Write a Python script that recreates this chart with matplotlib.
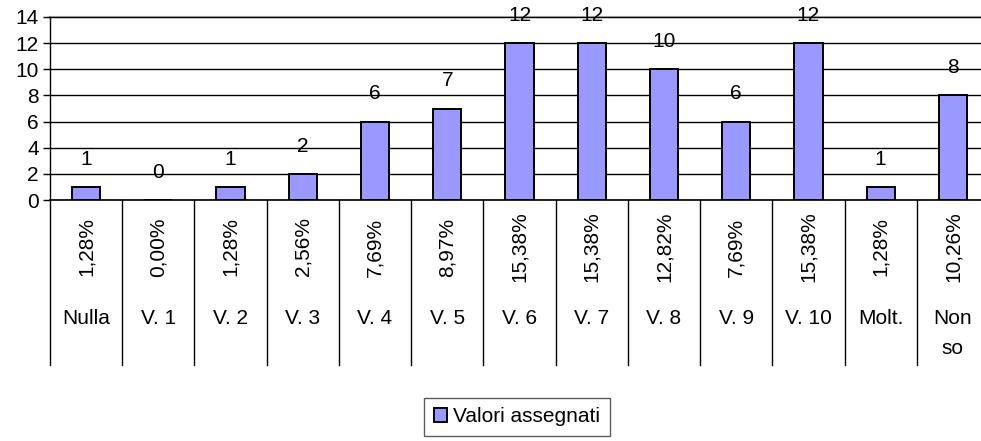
import matplotlib.pyplot as plt
from matplotlib.transforms import blended_transform_factory

plt.rcParams['font.family'] = ['Liberation Sans', 'DejaVu Sans']

# data
categories = ["Nulla", "V. 1", "V. 2", "V. 3", "V. 4", "V. 5", "V. 6",
              "V. 7", "V. 8", "V. 9", "V. 10", "Molt.", "Non\nso"]
counts = [1, 0, 1, 2, 6, 7, 12, 12, 10, 6, 12, 1, 8]
percents = ["1,28%", "0,00%", "1,28%", "2,56%", "7,69%", "8,97%", "15,38%",
            "15,38%", "12,82%", "7,69%", "15,38%", "1,28%", "10,26%"]

W, H = 981, 441
FS = 15
fig = plt.figure(figsize=(W / 100, H / 100), dpi=100)
left, right, top, bottom = 50, 989, 17, 200
ax = fig.add_axes([left / W, 1 - bottom / H, (right - left) / W, (bottom - top) / H])

x = list(range(len(categories)))
ax.bar(x, counts, width=0.39, color='#9999FF', edgecolor='black', linewidth=1.4,
       label='Valori assegnati', zorder=3)

for xi, c in zip(x, counts):
    ax.annotate(str(c), (xi, c), xytext=(0, 20), textcoords='offset points',
                ha='center', va='center', fontsize=FS, annotation_clip=False)

ax.set_xlim(-0.5, len(categories) - 0.5)
ax.set_ylim(0, 14)
ax.set_yticks(range(0, 15, 2))
ax.tick_params(axis='y', labelsize=FS, length=5, width=1, pad=3)
ax.set_xticks([])
ax.yaxis.grid(True, color='black', linewidth=1, zorder=0)
for s in ['top', 'right']:
    ax.spines[s].set_visible(False)
ax.spines['left'].set_linewidth(1)
ax.spines['bottom'].set_linewidth(1.2)
ax.axhline(14, color='#999999', linewidth=1.5, zorder=1, clip_on=False)

# data table below the axis
tr = blended_transform_factory(ax.transData, fig.transFigure)
y_top = 1 - bottom / H
y_bot = 1 - 365 / H
for k in range(len(categories)):
    ax.plot([k - 0.5, k - 0.5], [y_top, y_bot], transform=tr, color='black',
            linewidth=1, clip_on=False)
for xi, p, cat in zip(x, percents, categories):
    ax.text(xi, 1 - 247 / H, p, transform=tr, rotation=90, ha='center',
            va='center', fontsize=FS)
    ax.text(xi, 1 - 309 / H, cat, transform=tr, ha='center', va='top',
            fontsize=FS, linespacing=1.75)

fig.legend(loc='upper center', bbox_to_anchor=(517 / W, 1 - 398 / H),
           frameon=True, fancybox=False, edgecolor='#333333', fontsize=FS,
           handlelength=0.65, handleheight=0.65, handletextpad=0.3,
           borderpad=0.45, borderaxespad=0)

fig.savefig('out.png', dpi=100)
